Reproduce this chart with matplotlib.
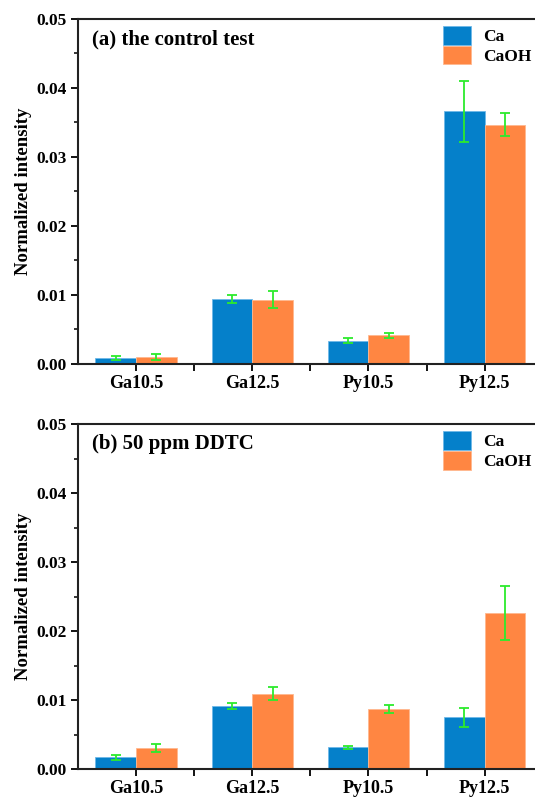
import numpy as np
import matplotlib
matplotlib.use("Agg")
import matplotlib.pyplot as plt
from matplotlib.ticker import MultipleLocator, FixedLocator

plt.rcParams["font.family"] = ["Liberation Serif", "DejaVu Serif"]
plt.rcParams["font.weight"] = "bold"

categories = ["Ga10.5", "Ga12.5", "Py10.5", "Py12.5"]

# (a) the control test
ca_a      = [0.00087, 0.00942, 0.00340, 0.03660]
ca_a_err  = [0.00030, 0.00060, 0.00030, 0.00440]
caoh_a    = [0.00102, 0.00932, 0.00413, 0.03470]
caoh_a_err = [0.00040, 0.00120, 0.00030, 0.00170]

# (b) 50 ppm DDTC
ca_b      = [0.00174, 0.00913, 0.00314, 0.00749]
ca_b_err  = [0.00036, 0.00050, 0.00024, 0.00135]
caoh_b    = [0.00300, 0.01092, 0.00870, 0.02256]
caoh_b_err = [0.00060, 0.00090, 0.00060, 0.00390]

panels = [
    ("(a) the control test", ca_a, ca_a_err, caoh_a, caoh_a_err),
    ("(b) 50 ppm DDTC", ca_b, ca_b_err, caoh_b, caoh_b_err),
]

BLUE = "#0580CA"
ORANGE = "#FF8642"
GREEN = "#2CEB2C"

fig = plt.figure(figsize=(5.35, 7.98), dpi=100)
# axes deliberately run a little past the right edge, as in the source image
rects = [[0.1455, 0.5439, 0.869, 0.4323], [0.1455, 0.0363, 0.869, 0.4323]]

x = np.arange(len(categories))
w = 0.35
for rect, (title, ca, ca_err, caoh, caoh_err) in zip(rects, panels):
    ax = fig.add_axes(rect)
    ax.bar(x - w / 2, ca, w, color=BLUE, edgecolor="#6FB8E8", linewidth=0.6,
           label="Ca", zorder=2)
    ax.bar(x + w / 2, caoh, w, color=ORANGE, edgecolor="#FFB88F", linewidth=0.6,
           label="CaOH", zorder=2)
    ax.errorbar(x - w / 2, ca, yerr=ca_err, fmt="none", ecolor=GREEN,
                elinewidth=1.3, capsize=3.3, capthick=1.3, zorder=3)
    ax.errorbar(x + w / 2, caoh, yerr=caoh_err, fmt="none", ecolor=GREEN,
                elinewidth=1.3, capsize=3.3, capthick=1.3, zorder=3)

    ax.set_xlim(-0.5, 3.5)
    ax.set_ylim(0, 0.05)
    ax.set_xticks(x)
    ax.set_xticklabels(categories, fontsize=13, fontweight="bold")
    ax.xaxis.set_minor_locator(FixedLocator([0.5, 1.5, 2.5]))
    ax.yaxis.set_major_locator(MultipleLocator(0.01))
    ax.yaxis.set_minor_locator(MultipleLocator(0.005))
    ax.set_yticklabels([f"{v:.2f}" for v in ax.get_yticks()], fontsize=12.5,
                       fontweight="bold")
    ax.tick_params(axis="both", which="major", direction="out", length=5,
                   width=1.3, pad=3)
    ax.tick_params(axis="x", which="minor", direction="out", length=5, width=1.3)
    ax.tick_params(axis="y", which="minor", direction="out", length=3, width=1.1)
    for s in ax.spines.values():
        s.set_linewidth(1.5)
        s.set_color("#222222")

    ax.set_ylabel("Normalized intensity", fontsize=13.5, fontweight="bold",
                  labelpad=3)
    ax.text(0.03, 0.942, title, transform=ax.transAxes, fontsize=15,
            fontweight="bold", va="center", ha="left")
    ax.legend(loc="upper left", bbox_to_anchor=(0.785, 0.98), frameon=False,
              fontsize=12.5, handlelength=1.65, handleheight=1.3,
              labelspacing=0.02, handletextpad=0.7, borderpad=0,
              borderaxespad=0)

fig.savefig("out.png", dpi=100)
